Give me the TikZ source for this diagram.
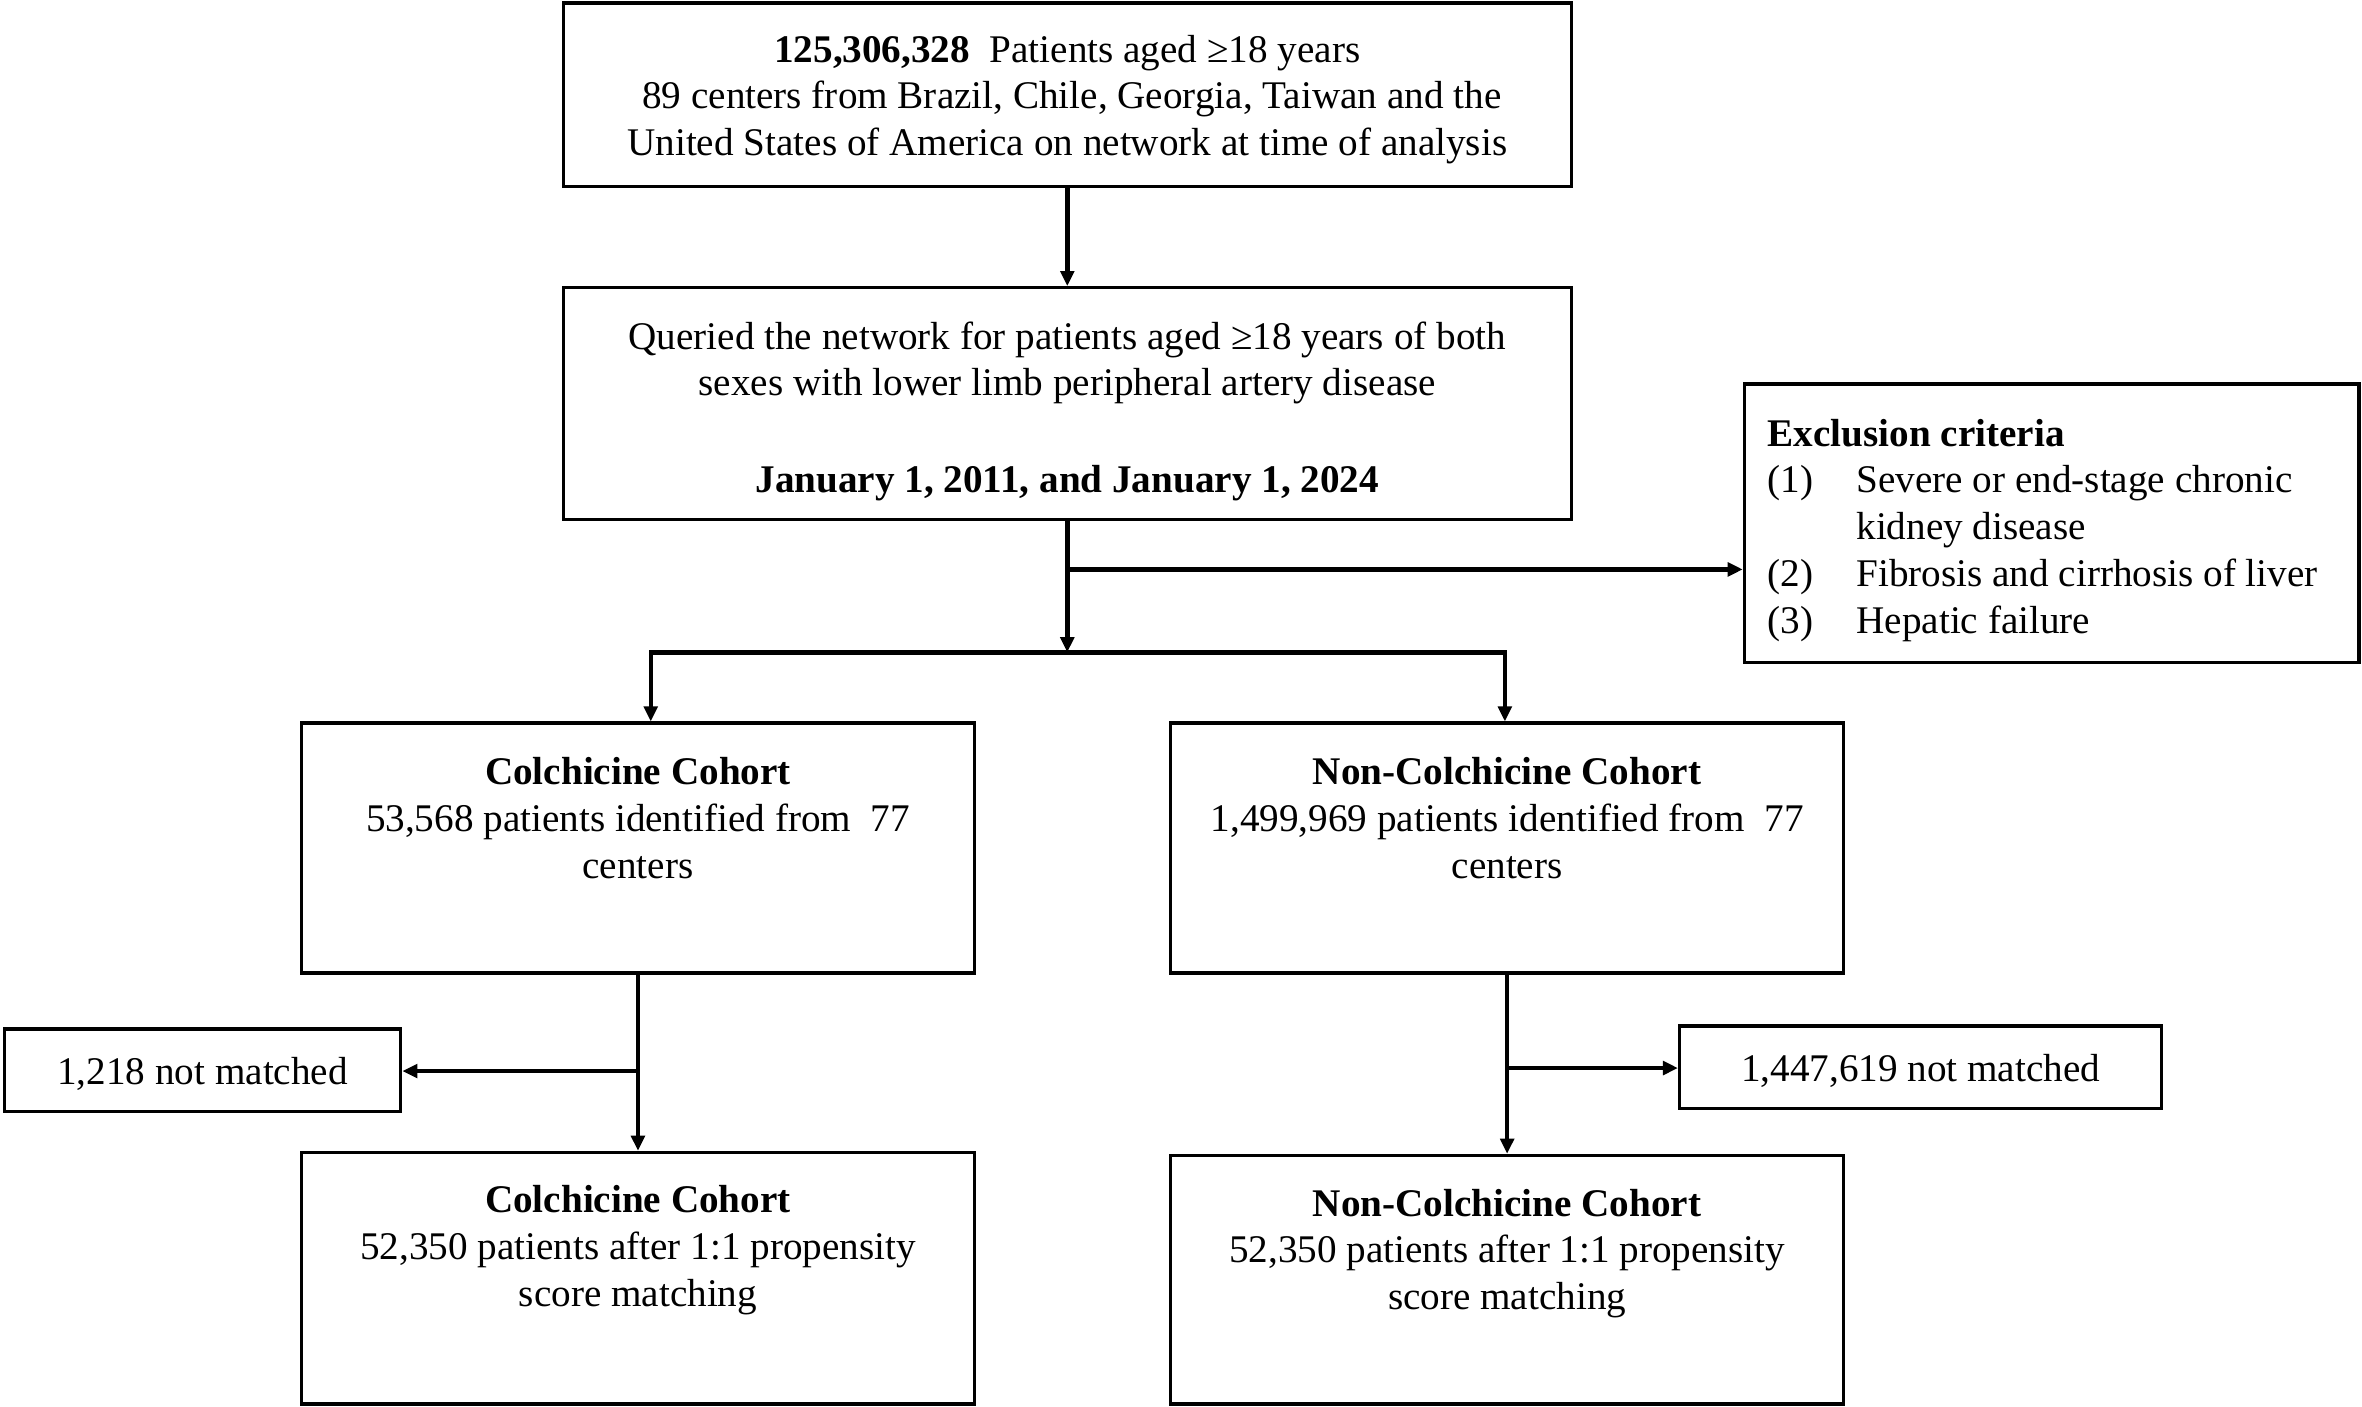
\documentclass[tikz,border=0pt]{standalone}
\usepackage{fontspec}
\setmainfont{Liberation Serif}
\usetikzlibrary{arrows.meta}
\begin{document}
\begin{tikzpicture}[x=0.5pt,y=-0.5pt,
  box/.style={draw, line width=1.1pt, inner sep=0pt},
  txt/.style={inner sep=0pt, align=center, font=\fontsize{13}{15.5}\selectfont},
  arr/.style={line width=1.5pt, -{Triangle[length=5pt,width=4.5pt]}}]
\fill[white] (0,0) rectangle (1568,934);
\useasboundingbox (0,0) rectangle (1568,934);

% boxes
\node[box, minimum width=334.5pt, minimum height=61pt] (top) at (708.5,63) {};
\node[txt] (toptext) at (708.5,66)
  {\textbf{125,306,328}\ \ Patients aged ≥18 years\\\hspace*{3pt}89 centers from Brazil, Chile, Georgia, Taiwan and the\\United States of America on network at time of analysis};
\node[box, minimum width=334.5pt, minimum height=77pt] (query) at (708.5,268) {};
\node[txt] (querytext) at (708.5,273)
  {Queried the network for patients aged ≥18 years of both\\sexes with lower limb peripheral artery disease\\[16.5pt]\textbf{January 1, 2011, and January 1, 2024}};
\node[box, minimum width=204pt, minimum height=92.5pt] (excl) at (1362,347.5) {};
\node[txt, align=left, anchor=west] (excltext) at (1173,352)
  {\textbf{Exclusion criteria}\\\makebox[29.5pt][l]{(1)}Severe or end-stage chronic\\\hspace*{29.5pt}kidney disease\\\makebox[29.5pt][l]{(2)}Fibrosis and cirrhosis of liver\\\makebox[29.5pt][l]{(3)}Hepatic failure};

\node[box, minimum width=223.5pt, minimum height=83pt] (colA) at (423.5,563) {};
\node[txt] (colAtext) at (423.5,543)
  {\textbf{Colchicine Cohort}\\53,568 patients identified from\ \ 77\\centers};
\node[box, minimum width=223.5pt, minimum height=83pt] (colB) at (1000.5,563) {};
\node[txt] (colBtext) at (1000.5,543)
  {\textbf{Non-Colchicine Cohort}\\1,499,969 patients identified from\ \ 77\\centers};

\node[box, minimum width=131.5pt, minimum height=27.5pt] (nmA) at (134.5,710.5) {};
\node[txt] (nmAtext) at (134.5,713) {1,218 not matched};
\node[box, minimum width=160pt, minimum height=27.5pt] (nmB) at (1275,708.5) {};
\node[txt] (nmBtext) at (1275,711) {1,447,619 not matched};

\node[box, minimum width=223.5pt, minimum height=83.5pt] (matA) at (423.5,848.5) {};
\node[txt] (matAtext) at (423.5,830)
  {\textbf{Colchicine Cohort}\\52,350 patients after 1:1 propensity\\score matching};
\node[box, minimum width=223.5pt, minimum height=82.5pt] (matB) at (1000.5,849.5) {};
\node[txt] (matBtext) at (1000.5,832)
  {\textbf{Non-Colchicine Cohort}\\52,350 patients after 1:1 propensity\\score matching};

% connectors
\coordinate (j1) at (708.5,378);
\coordinate (j2) at (708.5,433);
\coordinate (bl) at (432,433);
\coordinate (br) at (999,433);
\coordinate (ja) at (423.5,711);
\coordinate (jb) at (1000.5,709);

\draw[arr] (top.south) -- (query.north);
\draw[arr] (query.south) -- (j2);
\draw[arr] (j1) -- (excl.west |- j1);
\draw[arr] (j2) -- (bl) -- (bl |- colA.north);
\draw[arr] (j2) -- (br) -- (br |- colB.north);
\draw[arr] (colA.south) -- (matA.north);
\draw[arr] (ja) -- (nmA.east |- ja);
\draw[arr] (colB.south) -- (matB.north);
\draw[arr] (jb) -- (nmB.west |- jb);
\end{tikzpicture}
\end{document}
